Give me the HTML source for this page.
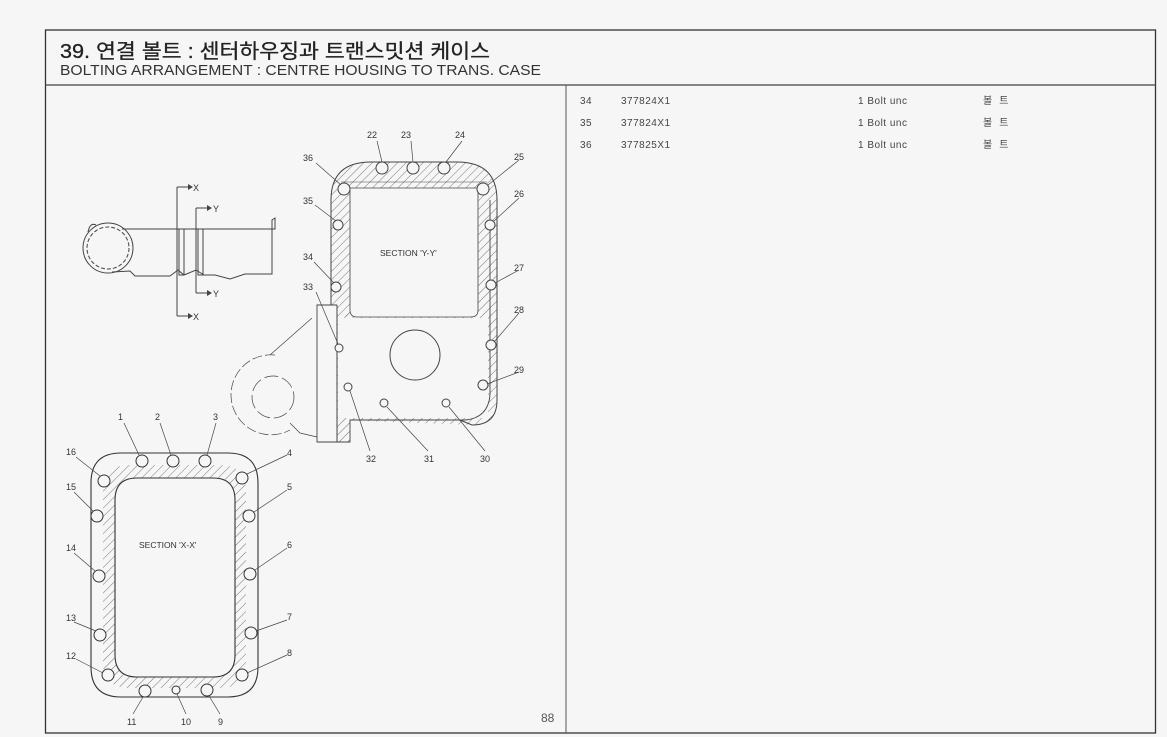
<!DOCTYPE html>
<html><head><meta charset="utf-8"><style>
html,body{margin:0;padding:0;background:#f6f6f6;}
svg{display:block;font-family:"Liberation Sans","Noto Sans CJK KR",sans-serif;}
</style></head><body>
<svg width="1167" height="737" viewBox="0 0 1167 737" xmlns="http://www.w3.org/2000/svg">
<defs>
<pattern id="h" width="6" height="6" patternUnits="userSpaceOnUse" patternTransform="rotate(45)">
<line x1="0" y1="0" x2="0" y2="6" stroke="#555" stroke-width="0.8"/>
</pattern>
</defs>
<rect x="0" y="0" width="1167" height="737" fill="#f6f6f6"/>
<rect x="45.5" y="30" width="1110" height="703" fill="none" stroke="#333" stroke-width="1.3"/>
<line x1="45" y1="85" x2="1156" y2="85" stroke="#444" stroke-width="1.3"/>
<line x1="566" y1="85" x2="566" y2="733" stroke="#555" stroke-width="1"/>
<text x="60" y="58" font-size="20" fill="#222" stroke="#222" stroke-width="0.3" textLength="430" lengthAdjust="spacingAndGlyphs">39. 연결 볼트 : 센터하우징과 트랜스밋션 케이스</text>
<text x="60" y="75" font-size="15" fill="#333" textLength="481" lengthAdjust="spacingAndGlyphs">BOLTING ARRANGEMENT : CENTRE HOUSING TO TRANS. CASE</text>
<g font-size="10" fill="#444" letter-spacing="0.5">
<text x="580" y="104">34</text><text x="621" y="104">377824X1</text><text x="858" y="104">1 Bolt unc</text><text x="983" y="104">볼 &#160;트</text>
<text x="580" y="126">35</text><text x="621" y="126">377824X1</text><text x="858" y="126">1 Bolt unc</text><text x="983" y="126">볼 &#160;트</text>
<text x="580" y="148">36</text><text x="621" y="148">377825X1</text><text x="858" y="148">1 Bolt unc</text><text x="983" y="148">볼 &#160;트</text>
</g>
<text x="541" y="722" font-size="12" fill="#555">88</text>

<g fill="none" stroke="#444" stroke-width="1">
<path d="M122,229 L275,229 L275,218 L272,220 L272,274 L245,274 L230,279 L215,275 L204,275 L196,270 L184,275 L178,270 L170,276 L135,276 L130,271 L112,272"/>
<circle cx="108" cy="248" r="25"/>
<circle cx="108" cy="248" r="21" stroke-dasharray="4 2"/>
<path d="M88,232 Q90,222 96,225"/>
<rect x="179" y="229" width="5" height="46"/>
<rect x="198" y="229" width="5" height="46"/>
<path d="M177,187 L177,316 M177,187 L188,187 M177,316 L188,316 M196,208 L196,293 M196,208 L207,208 M196,293 L207,293"/>
</g>
<g fill="#444"><path d="M188,184 L193,187 L188,190Z M188,313 L193,316 L188,319Z M207,205 L212,208 L207,211Z M207,290 L212,293 L207,296Z"/></g>
<g font-size="9" fill="#333"><text x="193" y="191">X</text><text x="193" y="320">X</text><text x="213" y="212">Y</text><text x="213" y="297">Y</text></g>

<path d="M331,305 L331,200 Q331,162 371,162 L457,162 Q497,162 497,200 L497,400 Q497,425 472,425 L337,420 L337,305Z M350,188 L478,188 L478,310 Q478,317 471,317 L357,317 Q350,317 350,310Z" fill="url(#h)" fill-rule="evenodd" stroke="none"/>
<path d="M337,317 L350,305 L350,317Z M337,420 L350,420 L350,442 L337,442Z" fill="url(#h)"/>
<rect x="338" y="318" width="150" height="100" fill="#f6f6f6"/>
<path d="M340,318 L488,318 L488,390 Q488,410 465,412 L340,412Z" fill="#f6f6f6"/>
<g fill="none" stroke="#444" stroke-width="1">
<path d="M331,305 L331,200 Q331,162 371,162 L457,162 Q497,162 497,200 L497,400 Q497,425 472,425 L460,420"/>
<path d="M350,188 L478,188 L478,310 Q478,317 471,317 L357,317 Q350,317 350,310Z" stroke-width="0.8"/>
<path d="M341,182 L487,182" stroke-width="0.6"/>
<path d="M337,305 L317,305 L317,442 L350,442 L350,420 L465,420 Q488,418 490,395 L490,200" stroke-width="0.9"/>
<line x1="337" y1="305" x2="337" y2="442"/>
<circle cx="415" cy="355" r="25"/>
<path d="M312,318 L270,355 M290,423 L300,433 L317,437" stroke-width="0.7"/>
<path d="M275,355 A40,40 0 1,0 290,430" stroke-dasharray="10 3" stroke-width="0.7"/>
<circle cx="273" cy="397" r="21" stroke-dasharray="14 4" stroke-width="0.7"/>
</g>
<g fill="#f6f6f6" stroke="#444" stroke-width="1">
<circle cx="382" cy="168" r="6"/><circle cx="413" cy="168" r="6"/><circle cx="444" cy="168" r="6"/>
<circle cx="344" cy="189" r="6"/><circle cx="483" cy="189" r="6"/>
<circle cx="338" cy="225" r="5"/><circle cx="490" cy="225" r="5"/>
<circle cx="336" cy="287" r="5"/><circle cx="491" cy="285" r="5"/>
<circle cx="339" cy="348" r="4"/><circle cx="491" cy="345" r="5"/>
<circle cx="483" cy="385" r="5"/><circle cx="348" cy="387" r="4"/>
<circle cx="384" cy="403" r="4"/><circle cx="446" cy="403" r="4"/>
</g>
<g stroke="#444" stroke-width="0.7">
<line x1="377" y1="141" x2="382" y2="162"/><line x1="411" y1="141" x2="413" y2="162"/><line x1="462" y1="141" x2="446" y2="162"/>
<line x1="316" y1="163" x2="341" y2="185"/><line x1="519" y1="160" x2="488" y2="185"/>
<line x1="315" y1="205" x2="336" y2="221"/><line x1="519" y1="198" x2="494" y2="221"/>
<line x1="314" y1="262" x2="334" y2="283"/><line x1="519" y1="270" x2="495" y2="283"/>
<line x1="316" y1="292" x2="338" y2="344"/><line x1="519" y1="313" x2="494" y2="342"/>
<line x1="519" y1="372" x2="487" y2="384"/>
<line x1="370" y1="451" x2="350" y2="391"/><line x1="428" y1="451" x2="387" y2="407"/><line x1="485" y1="451" x2="449" y2="407"/>
</g>
<g font-size="9" fill="#333">
<text x="367" y="138">22</text><text x="401" y="138">23</text><text x="455" y="138">24</text>
<text x="303" y="161">36</text><text x="514" y="160">25</text>
<text x="303" y="204">35</text><text x="514" y="197">26</text>
<text x="303" y="260">34</text><text x="514" y="271">27</text>
<text x="303" y="290">33</text><text x="514" y="313">28</text>
<text x="514" y="373">29</text>
<text x="366" y="462">32</text><text x="424" y="462">31</text><text x="480" y="462">30</text>
<text x="380" y="256" font-size="8.5">SECTION 'Y-Y'</text>
</g>

<path d="M103,492 Q103,465 130,465 L220,465 Q246,465 246,492 L246,662 Q246,688 220,688 L130,688 Q103,688 103,662Z M115,500 Q115,478 137,478 L213,478 Q235,478 235,500 L235,655 Q235,677 213,677 L137,677 Q115,677 115,655Z" fill="url(#h)" fill-rule="evenodd"/>
<g fill="none" stroke="#333" stroke-width="1.1">
<path d="M91,483 Q91,453 121,453 L228,453 Q258,453 258,483 L258,667 Q258,697 228,697 L121,697 Q91,697 91,667Z"/>
<path d="M115,500 Q115,478 137,478 L213,478 Q235,478 235,500 L235,655 Q235,677 213,677 L137,677 Q115,677 115,655Z"/>
</g>
<g fill="#f6f6f6" stroke="#333" stroke-width="1">
<circle cx="142" cy="461" r="6"/><circle cx="173" cy="461" r="6"/><circle cx="205" cy="461" r="6"/>
<circle cx="104" cy="481" r="6"/><circle cx="242" cy="478" r="6"/>
<circle cx="97" cy="516" r="6"/><circle cx="249" cy="516" r="6"/>
<circle cx="99" cy="576" r="6"/><circle cx="250" cy="574" r="6"/>
<circle cx="100" cy="635" r="6"/><circle cx="251" cy="633" r="6"/>
<circle cx="108" cy="675" r="6"/><circle cx="242" cy="675" r="6"/>
<circle cx="145" cy="691" r="6"/><circle cx="176" cy="690" r="4"/><circle cx="207" cy="690" r="6"/>
</g>
<g stroke="#444" stroke-width="0.7">
<line x1="124" y1="423" x2="139" y2="455"/><line x1="160" y1="423" x2="171" y2="455"/><line x1="216" y1="423" x2="207" y2="455"/>
<line x1="76" y1="457" x2="100" y2="476"/><line x1="287" y1="455" x2="247" y2="474"/>
<line x1="74" y1="492" x2="93" y2="511"/><line x1="287" y1="490" x2="254" y2="512"/>
<line x1="74" y1="553" x2="95" y2="571"/><line x1="287" y1="548" x2="255" y2="570"/>
<line x1="74" y1="622" x2="96" y2="631"/><line x1="287" y1="620" x2="256" y2="631"/>
<line x1="76" y1="659" x2="103" y2="673"/><line x1="287" y1="655" x2="247" y2="673"/>
<line x1="133" y1="714" x2="143" y2="697"/><line x1="186" y1="714" x2="177" y2="694"/><line x1="220" y1="714" x2="209" y2="696"/>
</g>
<g font-size="9" fill="#333">
<text x="118" y="420">1</text><text x="155" y="420">2</text><text x="213" y="420">3</text>
<text x="66" y="455">16</text><text x="287" y="456">4</text>
<text x="66" y="490">15</text><text x="287" y="490">5</text>
<text x="66" y="551">14</text><text x="287" y="548">6</text>
<text x="66" y="621">13</text><text x="287" y="620">7</text>
<text x="66" y="659">12</text><text x="287" y="656">8</text>
<text x="127" y="725">11</text><text x="181" y="725">10</text><text x="218" y="725">9</text>
<text x="139" y="548" font-size="8.5">SECTION 'X-X'</text>
</g>
</svg>
</body></html>
